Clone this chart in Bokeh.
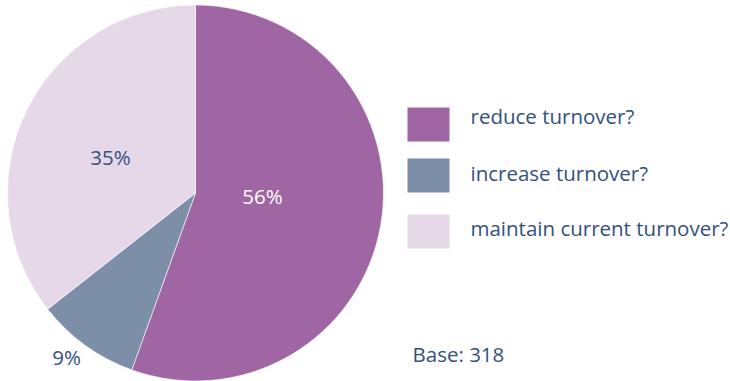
import math
from bokeh.plotting import figure
from bokeh.models import Range1d, ColumnDataSource
from bokeh.core.properties import value
from bokeh.embed import file_html
from bokeh.resources import INLINE

categories = ["reduce turnover?", "increase turnover?", "maintain current turnover?"]
shares = [55.5, 8.9, 35.6]
labels = ["56%", "9%", "35%"]
colors = ["#A066A3", "#7D8FA8", "#E6D8E8"]
base_text = "Base: 318"

TEXT = "#34507F"
FONT = "Open Sans"

W, H = 730, 381
p = figure(width=W, height=H, output_backend="svg", toolbar_location=None,
           x_range=Range1d(0, W), y_range=Range1d(0, H),
           min_border=0)
p.axis.visible = False
p.grid.visible = False
p.outline_line_color = None
p.background_fill_color = "white"
p.border_fill_color = "white"

cx, cy, r = 195, 188.5, 188
total = sum(shares)
starts, ends = [], []
a = math.pi / 2
for s in shares:
    starts.append(a)
    a -= s / total * 2 * math.pi
    ends.append(a)

src = ColumnDataSource(dict(start=starts, end=ends, color=colors))
p.wedge(x=cx, y=cy, radius=r, start_angle="start", end_angle="end",
        direction="clock", fill_color="color", line_color="white",
        line_width=0.6, source=src)

# slice labels
lx = [262, 66, 110]
ly = [186, 25, 225]
lc = ["white", TEXT, TEXT]
p.text(x=lx, y=ly, text=labels, text_color=lc, text_font=value(FONT),
       text_font_size="20.5px", text_align="center", text_baseline="middle")

# legend
sq_y = [257, 206, 150]
p.rect(x=[428] * 3, y=sq_y, width=42, height=34, fill_color=colors,
       line_color=None)
p.text(x=[470] * 3, y=[266, 209, 154], text=categories, text_color=TEXT,
       text_font=value(FONT), text_font_size="20.5px", text_align="left",
       text_baseline="middle")

p.text(x=[412], y=[28], text=[base_text], text_color=TEXT,
       text_font=value(FONT), text_font_size="20.5px", text_align="left",
       text_baseline="middle")

open("out.html", "w").write(file_html(p, INLINE))
